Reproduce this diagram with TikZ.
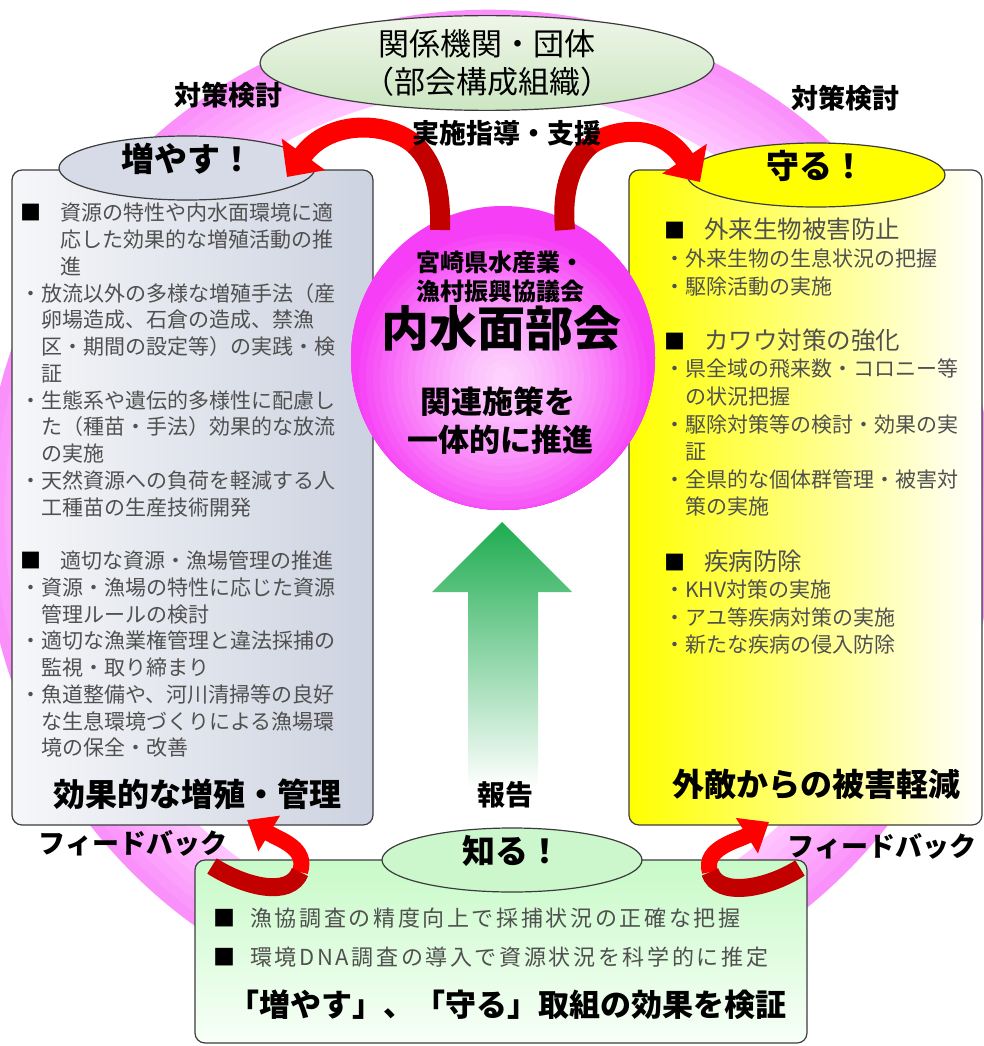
\documentclass[tikz,border=0pt]{standalone}
\usepackage{fontspec}
\setmainfont{Noto Sans CJK JP}
\newfontfamily\widefont{Noto Sans CJK JP}[LetterSpace=12]
\usetikzlibrary{positioning,shapes.geometric,arrows.meta}

\definecolor{boxline}{RGB}{60,60,60}
\definecolor{itemgray}{RGB}{80,80,80}
\definecolor{ringin}{RGB}{255,196,255}
\definecolor{ringout}{RGB}{250,145,250}
\definecolor{hubin}{RGB}{253,212,253}
\definecolor{hubout}{RGB}{246,62,246}
\definecolor{arrowred}{RGB}{255,0,0}
\definecolor{arrowdark}{RGB}{195,0,0}
\definecolor{arrowgreen}{RGB}{30,172,80}
\definecolor{leftA}{RGB}{246,247,249}
\definecolor{leftB}{RGB}{204,210,224}
\definecolor{fuyasufill}{RGB}{214,219,231}
\definecolor{mamorufill}{RGB}{255,255,0}
\definecolor{shirufill}{RGB}{204,246,204}
\definecolor{bottomA}{RGB}{200,250,200}
\definecolor{bottomB}{RGB}{248,255,248}
\definecolor{kankeiA}{RGB}{238,246,232}
\definecolor{kankeiB}{RGB}{204,230,194}

\newcommand{\sqmark}{\makebox[40pt][l]{\textcolor{black}{■}}}
\newcommand{\indA}{\hspace*{40pt}}
\newcommand{\indB}{\hspace*{21pt}}
\newcommand{\hdsize}{\fontsize{24.5pt}{29pt}\selectfont}

\tikzset{
lbl/.style={inner sep=0pt,text height=0.88em,text depth=0.12em,
font=\fontsize{27}{31}\selectfont\bfseries},
item/.style={inner sep=0pt,anchor=west,text height=0.88em,text depth=0.12em,
text=itemgray,font=\fontsize{21}{25}\selectfont},
box/.style={draw=boxline,line width=1.2pt,rounded corners=10pt,inner sep=0pt},
oval/.style={ellipse,draw=boxline,line width=1.2pt,inner sep=0pt,
text height=0.88em,text depth=0.12em,font=\fontsize{33}{38}\selectfont\bfseries},
redarrow/.style={line width=20pt,draw=arrowred,-{Triangle[length=28pt,width=52pt]}},
redbase/.style={line width=20pt,draw=arrowdark},
feedarrow/.style={line width=16pt,draw=arrowred,-{Triangle[length=26pt,width=40pt]}},
feedbase/.style={line width=18pt,draw=arrowdark}
}

\begin{document}
\begin{tikzpicture}[x=1pt,y=-1pt]
\useasboundingbox (0,0) rectangle (984,1046);

\foreach \i in {0,...,7}{
  \pgfmathsetmacro\pct{\i*100/7}
  \pgfmathsetmacro\rad{430+\i*10}
  \draw[line width=10.6pt,draw=ringout!\pct!ringin] (489,515) circle[radius=\rad pt];
}

\node[box,left color=leftA,right color=leftB,minimum width=361pt,minimum height=655pt] (fuyasubox) at (192.5,497.5) {};
\node[box,left color=mamorufill,right color=white,minimum width=353pt,minimum height=655pt] (mamorubox) at (805.5,497.5) {};
\node[box,top color=bottomA,bottom color=bottomB,minimum width=612pt,minimum height=183pt] (shirubox) at (501,951.5) {};

\node[oval,top color=kankeiA,bottom color=kankeiB,minimum width=454pt,minimum height=88pt,
  text height=,text depth=,align=center,font=\fontsize{31}{38}\selectfont] (kankei) at (487,63) {関係機関・団体\\（部会構成組織）};
\node[oval,fill=fuyasufill,minimum width=256pt,minimum height=64pt] (fuyasu) at (187,168) {増やす！};
\node[oval,fill=mamorufill,minimum width=258pt,minimum height=64pt] (mamoru) at (816,175) {守る！};
\node[oval,fill=shirufill,minimum width=260pt,minimum height=64pt] (shiru) at (512,860) {知る！};

\node[circle,minimum size=304pt,inner sep=0pt] (hub) at (503,358) {};
\begin{scope}
\clip (hub.center) circle[radius=152pt];
\foreach \i in {0,...,24}{
  \pgfmathsetmacro\rad{172-\i*7}
  \pgfmathsetmacro\pct{min(100,100*(\rad/150)^1.4)}
  \fill[hubout!\pct!hubin] (503,378) circle[radius=\rad pt];
}
\end{scope}
\node[lbl,font=\fontsize{24}{28}\selectfont\bfseries] (hub1) at (500,268) {宮崎県水産業・};
\node[lbl,font=\fontsize{24}{28}\selectfont\bfseries] (hub2) at (500,297) {漁村振興協議会};
\node[lbl,font=\fontsize{48}{52}\selectfont\bfseries] (hub3) at (501,343) {内水面部会};
\node[lbl,font=\fontsize{31}{35}\selectfont\bfseries] (hub4) at (498,410) {関連施策を};
\node[lbl,font=\fontsize{31}{35}\selectfont\bfseries] (hub5) at (500,448) {一体的に推進};

\shade[top color=arrowgreen,bottom color=white] (502,522) -- (572,592) -- (538,592) -- (538,788)
  -- (468,788) -- (468,592) -- (432,592) -- cycle;

\coordinate (baseL) at (440,230);
\coordinate (bendL) at (415,145);
\coordinate (tipL) at (287,177);
\coordinate (baseR) at (565,230);
\coordinate (bendR) at (590,145);
\coordinate (tipR) at (700,182);
\draw[redarrow] (bendL) .. controls (390,122) and (330,118) .. (tipL);
\draw[redbase] (baseL) .. controls (441,195) and (436,165) .. (bendL);
\draw[redarrow] (bendR) .. controls (615,128) and (660,122) .. (tipR);
\draw[redbase] (baseR) .. controls (562,195) and (568,165) .. (bendR);

\coordinate (fbaseL) at (212,866);
\coordinate (fbendL) at (300,872);
\coordinate (ftipL) at (247,820);
\coordinate (fbaseR) at (800,868);
\coordinate (fbendR) at (710,872);
\coordinate (ftipR) at (769,822);
\draw[feedarrow] (fbendL) .. controls (308,848) and (280,840) .. (ftipL);
\draw[feedbase] (fbaseL) .. controls (245,887) and (290,898) .. (fbendL);
\draw[feedarrow] (fbendR) .. controls (702,848) and (740,840) .. (ftipR);
\draw[feedbase] (fbaseR) .. controls (767,889) and (718,898) .. (fbendR);

\node[lbl] (kentoL) at (228,102) {対策検討};
\node[lbl] (kentoR) at (845,105) {対策検討};
\node[lbl] (shien) at (507,140) {実施指導・支援};
\node[lbl,font=\fontsize{28}{32}\selectfont\bfseries] (hokoku) at (505,802) {報告};
\node[lbl] (fbL) at (133,850) {フィードバック};
\node[lbl] (fbR) at (882,853) {フィードバック};
\node[lbl,font=\fontsize{32}{36}\selectfont\bfseries] (koka) at (197,803) {効果的な増殖・管理};
\node[lbl,font=\fontsize{32}{36}\selectfont\bfseries] (gaiteki) at (816,793) {外敵からの被害軽減};
\node[lbl,font=\fontsize{31}{35}\selectfont\bfseries] (kensho) at (507,1013) {「増やす」、「守る」取組の効果を検証};

\foreach \k/\t in {0/{\sqmark 資源の特性や内水面環境に適},1/{\indA 応した効果的な増殖活動の推},
  2/{\indA 進},3/{・放流以外の多様な増殖手法（産},4/{\indB 卵場造成、石倉の造成、禁漁},
  5/{\indB 区・期間の設定等）の実践・検},6/{\indB 証},7/{・生態系や遺伝的多様性に配慮し},
  8/{\indB た（種苗・手法）効果的な放流},9/{\indB の実施},10/{・天然資源への負荷を軽減する人},
  11/{\indB 工種苗の生産技術開発},13/{\sqmark 適切な資源・漁場管理の推進},
  14/{・資源・漁場の特性に応じた資源},15/{\indB 管理ルールの検討},16/{・適切な漁業権管理と違法採捕の},
  17/{\indB 監視・取り締まり},18/{・魚道整備や、河川清掃等の良好},19/{\indB な生息環境づくりによる漁場環},
  20/{\indB 境の保全・改善}}
  \node[item] (lft\k) at (20,{217+\k*26.75}) {\t};

\foreach \k/\t in {0/{\sqmark{\hdsize 外来生物被害防止}},1/{・外来生物の生息状況の把握},2/{・駆除活動の実施},
  4/{\sqmark{\hdsize カワウ対策の強化}},5/{・県全域の飛来数・コロニー等},6/{\indB の状況把握},
  7/{・駆除対策等の検討・効果の実},8/{\indB 証},9/{・全県的な個体群管理・被害対},10/{\indB 策の実施},
  12/{\sqmark{\hdsize 疾病防除}},13/{・KHV対策の実施},14/{・アユ等疾病対策の実施},15/{・新たな疾病の侵入防除}}
  \node[item] (rgt\k) at (664,{235+\k*27.6}) {\t};

\node[item,font=\widefont\fontsize{22}{26}\selectfont] (shiru1) at (213,923) {\makebox[37pt][l]{\textcolor{black}{■}}漁協調査の精度向上で採捕状況の正確な把握};
\node[item,font=\widefont\fontsize{22}{26}\selectfont] (shiru2) at (213,962) {\makebox[37pt][l]{\textcolor{black}{■}}環境DNA調査の導入で資源状況を科学的に推定};

\end{tikzpicture}
\end{document}
